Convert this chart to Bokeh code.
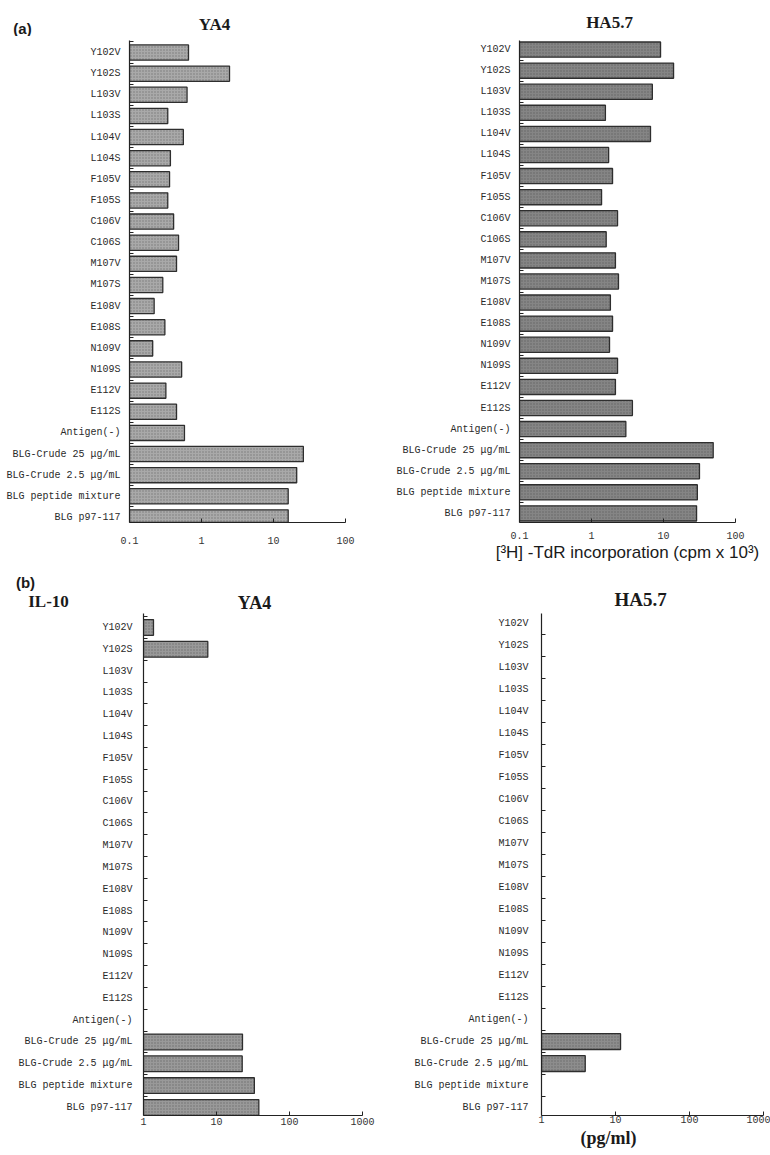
from bokeh.plotting import figure
from bokeh.models import Range1d, FixedTicker, ColumnDataSource, Title
from bokeh.core.properties import value
from bokeh.layouts import column, row
from bokeh.embed import file_html
from bokeh.resources import INLINE

categories = ["Y102V", "Y102S", "L103V", "L103S", "L104V", "L104S", "F105V", "F105S",
              "C106V", "C106S", "M107V", "M107S", "E108V", "E108S", "N109V", "N109S",
              "E112V", "E112S", "Antigen(-)", "BLG-Crude 25 μg/mL", "BLG-Crude 2.5 μg/mL",
              "BLG peptide mixture", "BLG p97-117"]

# (a) proliferation, cpm x 10^3
ya4_prolif = [0.66, 2.45, 0.63, 0.34, 0.56, 0.37, 0.36, 0.34, 0.41, 0.48, 0.45, 0.29,
              0.22, 0.31, 0.21, 0.53, 0.32, 0.45, 0.58, 26, 21, 16, 16]
ha57_prolif = [9.1, 13.8, 7.0, 1.56, 6.6, 1.73, 1.96, 1.38, 2.3, 1.6, 2.15, 2.37,
               1.83, 1.96, 1.78, 2.3, 2.15, 3.7, 3.0, 49, 31.6, 29.5, 28.8]
# (b) IL-10, pg/ml (0 = not detected)
ya4_il10 = [1.37, 7.6, 0, 0, 0, 0, 0, 0, 0, 0, 0, 0, 0, 0, 0, 0, 0, 0, 0, 22.7, 22.5, 33, 38]
ha57_il10 = [0, 0, 0, 0, 0, 0, 0, 0, 0, 0, 0, 0, 0, 0, 0, 0, 0, 0, 0, 11.7, 3.9, 0, 0]

prolif_ticks = [0.1, 1, 10, 100]
il10_ticks = [1, 10, 100, 1000]

MONO = "Liberation Mono"
SERIF = "Liberation Serif"
SANS = "Liberation Sans"


def panel(values, ticks, W, H, L, R, T, B, pad_top, pad_bot, fill, x_standoff, y_standoff):
    n = len(categories)
    xr = Range1d(ticks[0], ticks[-1])
    yr = Range1d(n - 1 + pad_bot, -pad_top)
    p = figure(width=W, height=H, x_axis_type="log", x_range=xr, y_range=yr,
               output_backend="svg", toolbar_location=None,
               min_border_left=L, min_border_right=R, min_border_top=T, min_border_bottom=B)
    p.outline_line_color = None
    p.xgrid.grid_line_color = None
    p.ygrid.grid_line_color = None
    p.background_fill_color = "white"
    p.border_fill_color = "white"

    ys = [i for i, v in enumerate(values) if v > ticks[0]]
    rs = [v for v in values if v > ticks[0]]
    src = ColumnDataSource(dict(y=ys, right=rs, left=[ticks[0]] * len(ys)))
    p.hbar(y="y", left="left", right="right", height=0.72, source=src,
           fill_color=fill, line_color="#2e2e2e", line_width=1.3,
           hatch_pattern="dot", hatch_color="#3c3c3c", hatch_alpha=0.45, hatch_scale=3,
           hatch_weight=1)

    xa = p.xaxis[0]
    xa.ticker = FixedTicker(ticks=ticks, minor_ticks=[])
    xa.major_label_overrides = {t: (str(t)) for t in ticks}
    xa.major_tick_in = 4
    xa.major_tick_out = 0
    xa.minor_tick_line_color = None
    xa.axis_line_color = "#222"
    xa.axis_line_width = 1.2
    xa.major_tick_line_color = "#222"
    xa.major_label_text_font = MONO
    xa.major_label_text_font_size = "10px"
    xa.major_label_text_color = "#333"
    xa.major_label_standoff = x_standoff

    ya = p.yaxis[0]
    ya.ticker = FixedTicker(ticks=list(range(n)), minor_ticks=[i + 0.5 for i in range(-1, n - 1)])
    ya.major_label_overrides = {i: c for i, c in enumerate(categories)}
    ya.major_tick_line_color = None
    ya.major_tick_in = 0
    ya.major_tick_out = 0
    ya.minor_tick_in = 4
    ya.minor_tick_out = 0
    ya.minor_tick_line_color = "#222"
    ya.axis_line_color = "#222"
    ya.axis_line_width = 1.2
    ya.major_label_text_font = MONO
    ya.major_label_text_font_size = "10px"
    ya.major_label_text_color = "#2a2a2a"
    ya.major_label_standoff = y_standoff
    return p


def strip(h, items):
    s = figure(width=770, height=h, x_range=Range1d(0, 770), y_range=Range1d(h, 0),
               output_backend="svg", toolbar_location=None,
               min_border_left=0, min_border_right=0, min_border_top=0, min_border_bottom=0)
    s.axis.visible = False
    s.grid.visible = False
    s.outline_line_color = None
    for (x, y, txt, font, size, style) in items:
        s.text(x=[x], y=[y], text=[txt], text_font=value(font), text_font_size=size,
               text_font_style=style, text_align="center", text_baseline="middle",
               text_color="#1a1a1a")
    return s


# header (page y 0..36)
header = strip(36, [
    (22, 28, "(a)", SANS, "15px", "bold"),
    (214, 24, "YA4", SERIF, "17px", "bold"),
    (609, 22, "HA5.7", SERIF, "17px", "bold"),
])
# top panels (page y 36..570), shared frame 40..522
pa = panel(ya4_prolif, prolif_ticks, 385, 534, 129, 40, 4, 48, 0.57, 0.24, "#a9a9a9", 14, 9)
pb = panel(ha57_prolif, prolif_ticks, 385, 534, 134, 35, 4, 48, 0.43, 0.43, "#858585", 9, 9)
pb.xaxis[0].axis_label = "[³H] -TdR incorporation (cpm x 10³)"
pb.xaxis[0].axis_label_text_font = SANS
pb.xaxis[0].axis_label_text_font_size = "17px"
pb.xaxis[0].axis_label_text_font_style = "normal"
pb.xaxis[0].axis_label_text_color = "#1a1a1a"
pb.xaxis[0].axis_label_standoff = 1
# middle strip (page y 570..612)
mid = strip(42, [
    (25, 12, "(b)", SANS, "15px", "bold"),
    (48, 31, "IL-10", SERIF, "17px", "bold"),
    (254, 32, "YA4", SERIF, "18px", "bold"),
    (640, 29, "HA5.7", SERIF, "19px", "bold"),
])
# bottom panels (page y 612..1155), shared frame 613..1115
pc = panel(ya4_il10, il10_ticks, 385, 543, 143, 23, 1, 40, 0.64, 0.37, "#999999", 2, 11)
pd = panel(ha57_il10, il10_ticks, 385, 543, 156, 7, 1, 40, 0.45, 0.36, "#8d8d8d", 0, 13)
pd.add_layout(Title(text="(pg/ml)", align="left", offset=39, standoff=0,
                    text_font=SERIF, text_font_size="18px", text_font_style="bold",
                    text_color="#1a1a1a"), "below")

layout = column(header, row(pa, pb, spacing=0), mid, row(pc, pd, spacing=0), spacing=0)
open("out.html", "w").write(file_html(layout, INLINE))
